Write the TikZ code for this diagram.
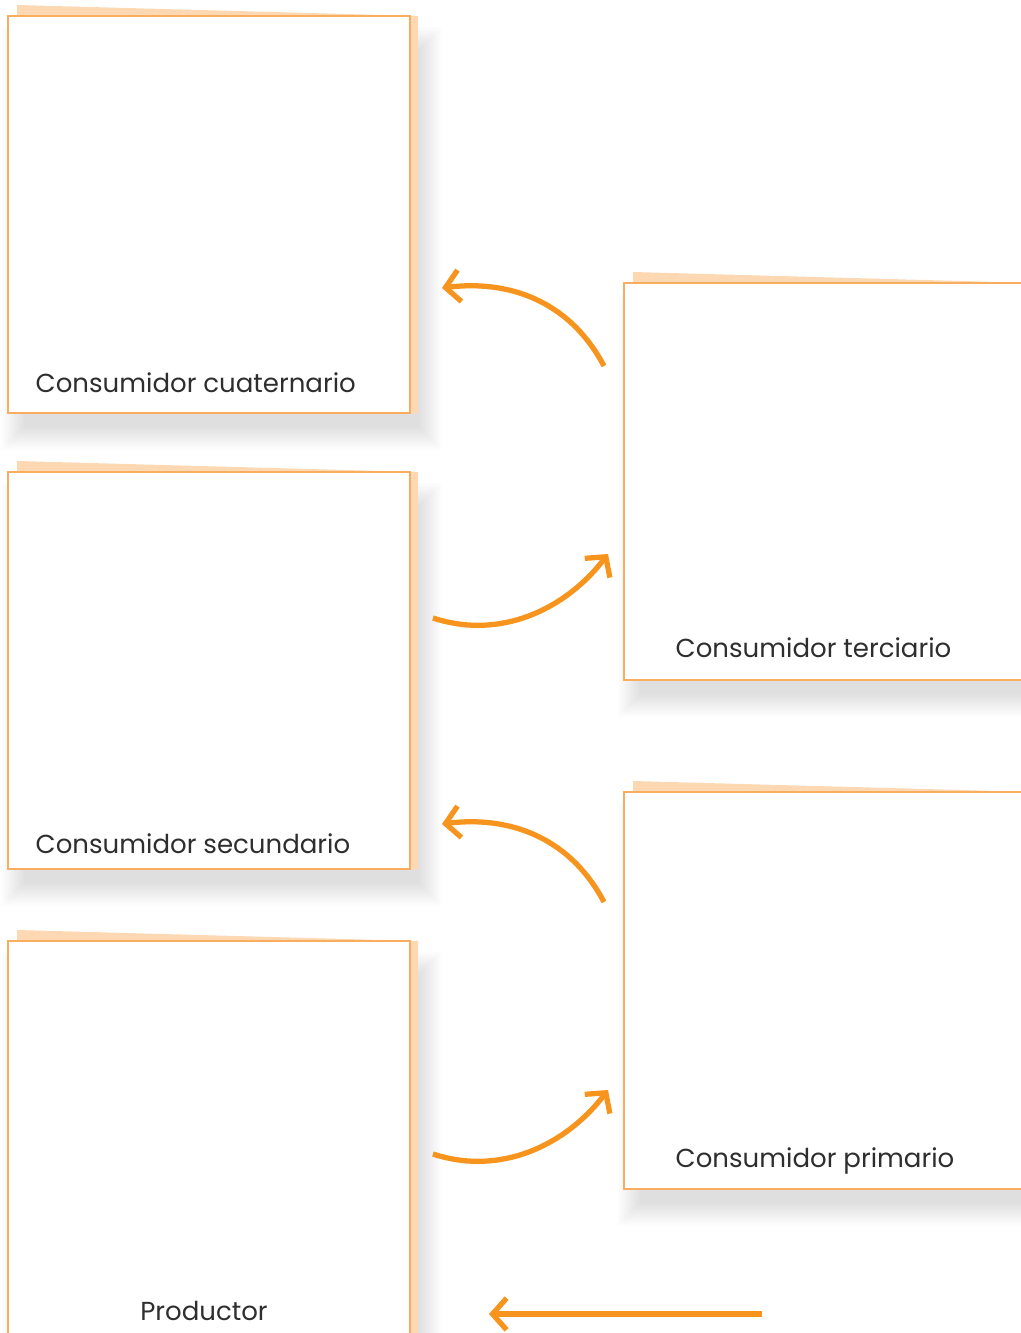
\documentclass[tikz,border=0pt]{standalone}
\usepackage{fontspec}
\setmainfont{Poppins}
\usetikzlibrary{arrows.meta,calc}
\definecolor{arrorange}{HTML}{F7941D}
\definecolor{boxorange}{HTML}{F9AE5F}
\definecolor{pageorange}{HTML}{FDD8B2}
\definecolor{txtgray}{HTML}{2E2E2E}
\begin{document}
\begin{tikzpicture}[x=0.01cm, y=-0.01cm,
    box/.style={draw=boxorange, line width=0.55pt, fill=white, minimum width=4.02cm, minimum height=3.97cm, inner sep=0pt},
    backpage/.style={fill=pageorange},
    lbl/.style={text=txtgray, font=\fontsize{7.4}{9}\selectfont, inner sep=0pt},
    flow/.style={draw=arrorange, line width=1.5pt, -{Straight Barb[length=4pt, width=9pt, line width=1.5pt]}}]
  \clip (0,0) rectangle (1021,1333);
  \useasboundingbox (0,0) rectangle (1021,1333);
  \foreach \n/\cx/\cy in {cuat/209/214.5, secu/209/670.5, prod/209/1139.5, terc/825/481.5, prim/825/990.5} {
    \foreach \i in {0,...,15}
      \fill[black, opacity=0.007] (\cx-185-\i*1.5, \cy-165.5-\i*1.5) rectangle (\cx+210+\i*1.5, \cy+212.5+\i*1.5);
    \fill[backpage] (\cx-192,\cy-209.5) -- (\cx+209,\cy-198.5) -- (\cx+209,\cy+198.5) -- (\cx-192,\cy+198.5) -- cycle;
    \node[box] (\n) at (\cx,\cy) {};
  }
  \node[lbl, anchor=base west] (lcuat) at (35,392) {Consumidor cuaternario};
  \node[lbl, anchor=base west] (lsecu) at (35,853) {Consumidor secundario};
  \node[lbl, anchor=base] (lprod) at (204,1320) {Productor};
  \node[lbl, anchor=base west] (lterc) at (675,657) {Consumidor terciario};
  \node[lbl, anchor=base west] (lprim) at (675,1167) {Consumidor primario};
  % arrows between the levels
  \coordinate (t1) at (604,366);  \coordinate (h1) at (442,288);
  \coordinate (t2) at (433,618);  \coordinate (h2) at (608,554);
  \coordinate (t3) at (604,902);  \coordinate (h3) at (442,824);
  \coordinate (t4) at (433,1154); \coordinate (h4) at (608,1090);
  \coordinate (t5) at (762,1314); \coordinate (h5) at (489,1314);
  \draw[flow] (t1) .. controls (568,298) and (505,280) .. (h1);
  \draw[flow] (t2) .. controls (500,640) and (565,610) .. (h2);
  \draw[flow] (t3) .. controls (568,834) and (505,816) .. (h3);
  \draw[flow] (t4) .. controls (500,1176) and (565,1146) .. (h4);
  \draw[flow] (t5) -- (h5);
\end{tikzpicture}
\end{document}
